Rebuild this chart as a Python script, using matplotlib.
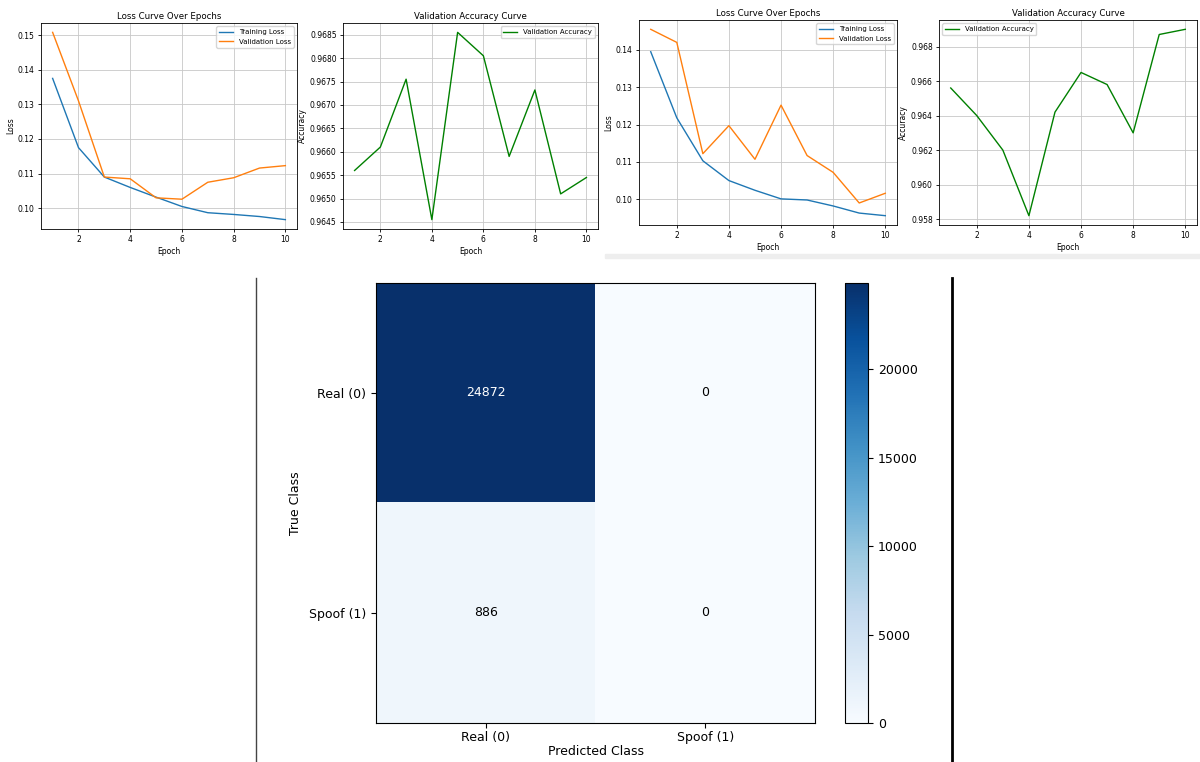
import numpy as np
import matplotlib
matplotlib.use("Agg")
import matplotlib.pyplot as plt
from matplotlib.lines import Line2D
from matplotlib.patches import Rectangle

W, H = 1200, 762

epochs = list(range(1, 11))

# run A
train_loss_a = [0.1375, 0.1175, 0.1090, 0.1060, 0.1032, 0.1005, 0.0987, 0.0982, 0.0976, 0.0967]
val_loss_a = [0.1508, 0.1310, 0.1090, 0.1085, 0.1030, 0.1026, 0.1075, 0.1088, 0.1116, 0.1123]
val_acc_a = [0.96560, 0.96610, 0.96755, 0.96455, 0.96855, 0.96805, 0.96590, 0.96732, 0.96510, 0.96545]

# run B
train_loss_b = [0.1395, 0.1218, 0.1103, 0.1050, 0.1024, 0.1001, 0.0998, 0.0982, 0.0963, 0.0956]
val_loss_b = [0.1455, 0.1420, 0.1122, 0.1197, 0.1107, 0.1252, 0.1117, 0.1072, 0.0990, 0.1016]
val_acc_b = [0.9656, 0.9640, 0.9620, 0.9582, 0.9642, 0.9665, 0.9658, 0.9630, 0.9687, 0.9690]

# confusion matrix
class_names = ["Real (0)", "Spoof (1)"]
cm_values = np.array([[24872, 0],
                      [886, 0]])


def px_axes(fig, left, top, right, bottom):
    return fig.add_axes([left / W, 1 - bottom / H, (right - left) / W, (bottom - top) / H])


def style_small(ax, title, ylabel):
    ax.set_title(title, fontsize=6.2, pad=3)
    ax.set_xlabel("Epoch", fontsize=5.5, labelpad=2)
    ax.set_ylabel(ylabel, fontsize=5.5, labelpad=2)
    ax.tick_params(labelsize=5.5, length=2.5, width=0.6, pad=2)
    ax.grid(True, linewidth=0.6, color="#c8c8c8")
    for s in ax.spines.values():
        s.set_linewidth(0.6)
    ax.set_xticks([2, 4, 6, 8, 10])


fig = plt.figure(figsize=(W / 100, H / 100), dpi=100)

# loss A
ax1 = px_axes(fig, 41, 23, 297, 229)
ax1.plot(epochs, train_loss_a, color="#1f77b4", lw=1, label="Training Loss")
ax1.plot(epochs, val_loss_a, color="#ff7f0e", lw=1, label="Validation Loss")
style_small(ax1, "Loss Curve Over Epochs", "Loss")
ax1.set_yticks([0.10, 0.11, 0.12, 0.13, 0.14, 0.15])
ax1.legend(fontsize=5, loc="upper right", handlelength=2)

# accuracy A
ax2 = px_axes(fig, 343, 23, 598, 229)
ax2.plot(epochs, val_acc_a, color="green", lw=1, label="Validation Accuracy")
style_small(ax2, "Validation Accuracy Curve", "Accuracy")
ax2.set_yticks(np.arange(0.9645, 0.96851, 0.0005))
ax2.yaxis.set_major_formatter(plt.FormatStrFormatter("%.4f"))
ax2.legend(fontsize=5, loc="upper right", handlelength=2)

# loss B
ax3 = px_axes(fig, 639, 20, 897, 225)
ax3.plot(epochs, train_loss_b, color="#1f77b4", lw=1, label="Training Loss")
ax3.plot(epochs, val_loss_b, color="#ff7f0e", lw=1, label="Validation Loss")
style_small(ax3, "Loss Curve Over Epochs", "Loss")
ax3.set_yticks([0.10, 0.11, 0.12, 0.13, 0.14])
ax3.legend(fontsize=5, loc="upper right", handlelength=2)

# accuracy B
ax4 = px_axes(fig, 939, 20, 1197, 225)
ax4.plot(epochs, val_acc_b, color="green", lw=1, label="Validation Accuracy")
style_small(ax4, "Validation Accuracy Curve", "Accuracy")
ax4.set_yticks([0.958, 0.960, 0.962, 0.964, 0.966, 0.968])
ax4.yaxis.set_major_formatter(plt.FormatStrFormatter("%.3f"))
ax4.legend(fontsize=5, loc="upper left", handlelength=2)

# light strip under the right screenshot
fig.patches.append(Rectangle((605 / W, 1 - 258 / H), 595 / W, 4 / H,
                             transform=fig.transFigure, color="#eeeeee", zorder=0))

# confusion matrix
ax5 = px_axes(fig, 376, 283, 815, 723)
im = ax5.imshow(cm_values, cmap="Blues", vmin=0, vmax=cm_values.max(), aspect="auto")
thresh = cm_values.max() / 2
for i in range(cm_values.shape[0]):
    for j in range(cm_values.shape[1]):
        ax5.text(j, i, str(cm_values[i, j]), ha="center", va="center", fontsize=9,
                 color="white" if cm_values[i, j] > thresh else "black")
ax5.set_xticks([0, 1])
ax5.set_xticklabels(class_names, fontsize=9)
ax5.set_yticks([0, 1])
ax5.set_yticklabels(class_names, fontsize=9)
ax5.tick_params(axis="x", pad=2)
ax5.set_xlabel("Predicted Class", fontsize=9, labelpad=1)
ax5.set_ylabel("True Class", fontsize=9, labelpad=5)

cax = px_axes(fig, 845, 283, 868, 723)
cb = fig.colorbar(im, cax=cax)
cb.set_ticks([0, 5000, 10000, 15000, 20000])
cb.ax.tick_params(labelsize=9)

# screenshot borders
fig.add_artist(Line2D([256 / W, 256 / W], [0, 1 - 278 / H], transform=fig.transFigure,
                      color="#444444", lw=1))
fig.add_artist(Line2D([952 / W, 952 / W], [0, 1 - 278 / H], transform=fig.transFigure,
                      color="black", lw=2))

fig.savefig("out.png", dpi=100)
